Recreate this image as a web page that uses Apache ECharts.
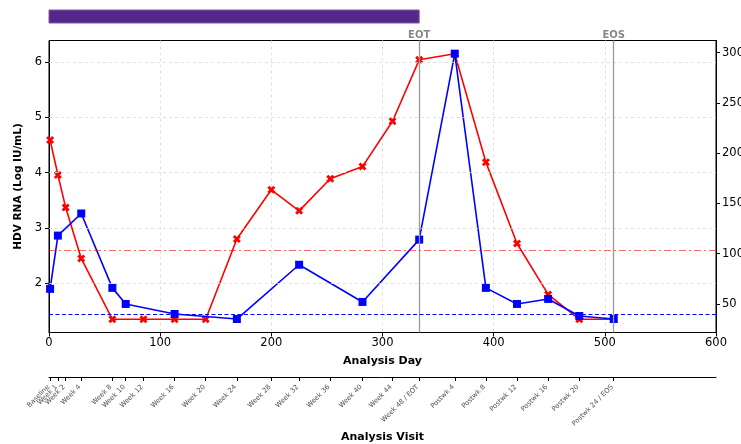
<!DOCTYPE html>
<html>
<head>
<meta charset="utf-8">
<script src="https://cdn.jsdelivr.net/npm/echarts@6/dist/echarts.min.js"></script>
<style>
  html, body { margin: 0; padding: 0; background: #fff; }
  #chart { width: 741px; height: 444px; }
</style>
</head>
<body>
<div id="chart"></div>
<script>
// Scheduled visits (analysis day of each visit) and their labels
const visitDays = [1, 8, 15, 29, 57, 69, 85, 113, 141, 169, 200, 225, 253, 282, 309, 333, 365, 393, 421, 449, 477, 508];
const visitLabels = ['Baseline', 'Week 1', 'Week 2', 'Week 4', 'Week 8', 'Week 10', 'Week 12', 'Week 16',
  'Week 20', 'Week 24', 'Week 28', 'Week 32', 'Week 36', 'Week 40', 'Week 44', 'Week 48 / EOT',
  'Postwk 4', 'Postwk 8', 'Postwk 12', 'Postwk 16', 'Postwk 20', 'Postwk 24 / EOS'];

// HDV RNA (log IU/mL), left axis
const hdvDays = [1, 8, 15, 29, 57, 85, 113, 141, 169, 200, 225, 253, 282, 309, 333, 365, 393, 421, 449, 477, 508];
const hdvLog = [4.59, 3.96, 3.37, 2.45, 1.35, 1.35, 1.35, 1.35, 2.80, 3.69, 3.31, 3.89, 4.11, 4.93, 6.04, 6.15, 4.19, 2.72, 1.80, 1.35, 1.35];

// ALT (U/L), right axis
const altDays = [1, 8, 29, 57, 69, 113, 169, 225, 282, 333, 365, 393, 421, 449, 477, 508];
const altValues = [65, 118, 140, 66, 50, 40, 35, 89, 52, 114, 299, 66, 50, 55, 38, 35];

// Reference levels and study milestones
const hdvThreshold = 2.59;
const altUln = 40;
const eotDay = 333;
const eosDay = 508;
const treatmentStart = 0;

// Axis tick values
const leftTicks = [2, 3, 4, 5, 6];
const rightTicks = [50, 100, 150, 200, 250, 300];

const FONT = 'DejaVu Sans';

// filled "X" marker
const xMarker = 'path://M0,1.5 L1.5,0 L3,1.5 L4.5,0 L6,1.5 L4.5,3 L6,4.5 L4.5,6 L3,4.5 L1.5,6 L0,4.5 L1.5,3 Z';
const gridDash = { color: '#d9d9d9', type: [3, 3], width: 0.8 };
const titleStyle = { fontFamily: FONT, fontWeight: 'bold', fontSize: 11, color: '#000' };

const chart = echarts.init(document.getElementById('chart'), null, { renderer: 'canvas' });

const option = {
  animation: false,
  backgroundColor: '#fff',
  grid: [
    { left: 49, top: 40.5, width: 667, height: 292, outerBoundsMode: 'none', containLabel: false,
      show: true, borderColor: '#000', borderWidth: 1, backgroundColor: 'transparent' },
    { left: 49, top: 376, width: 667, height: 1, outerBoundsMode: 'none', containLabel: false, show: false }
  ],
  xAxis: [
    {
      gridIndex: 0, type: 'value', min: 0, max: 600, interval: 100,
      name: 'Analysis Day', nameLocation: 'middle', nameGap: 23.5,
      nameTextStyle: titleStyle,
      axisLine: { show: true, onZero: false, lineStyle: { color: '#000', width: 1 } },
      axisTick: { show: true, length: 4, lineStyle: { color: '#000' } },
      axisLabel: { fontFamily: FONT, fontSize: 11.5, color: '#000', margin: 5 },
      splitLine: { show: true, lineStyle: gridDash }
    },
    {
      // visit axis: ticks at each scheduled visit, labels drawn by the label series below
      gridIndex: 1, type: 'value', min: 0, max: 600, position: 'bottom',
      name: 'Analysis Visit', nameLocation: 'middle', nameGap: 54.5,
      nameTextStyle: titleStyle,
      axisLine: { show: true, onZero: false, lineStyle: { color: '#000', width: 1 } },
      axisTick: { show: true, length: 4, customValues: visitDays, lineStyle: { color: '#000' } },
      axisLabel: { show: false },
      splitLine: { show: false }
    }
  ],
  yAxis: [
    {
      gridIndex: 0, type: 'value', min: 1.111, max: 6.389, position: 'left',
      name: 'HDV RNA (Log IU/mL)', nameLocation: 'middle', nameGap: 19.5, nameRotate: 90,
      nameTextStyle: Object.assign({}, titleStyle, { fontSize: 10.5 }),
      axisLine: { show: true, onZero: false, lineStyle: { color: '#000', width: 1 } },
      axisTick: { show: true, length: 4, customValues: leftTicks, lineStyle: { color: '#000' } },
      axisLabel: { customValues: leftTicks, fontFamily: FONT, fontSize: 11.5, color: '#000', margin: 7 },
      splitLine: { show: false }
    },
    {
      gridIndex: 0, type: 'value', min: 21.6, max: 312.1, position: 'right',
      axisLine: { show: true, onZero: false, lineStyle: { color: '#000', width: 1 } },
      axisTick: { show: true, length: 4, customValues: rightTicks, lineStyle: { color: '#000' } },
      axisLabel: { customValues: rightTicks, fontFamily: FONT, fontSize: 11.5, color: '#000', margin: 6 },
      splitLine: { show: false }
    },
    { gridIndex: 1, type: 'value', min: -1, max: 1, show: false }
  ],
  series: [
    {
      // horizontal grid lines at the left-axis ticks, plus EOT / EOS markers
      type: 'line', xAxisIndex: 0, yAxisIndex: 0, data: [], silent: true, z: 1,
      markLine: {
        silent: true, symbol: 'none', animation: false,
        data: leftTicks.map(v => ({ yAxis: v, lineStyle: gridDash, label: { show: false } }))
          .concat([
            { xAxis: eotDay, lineStyle: { color: '#9a9a9a', width: 1.3, type: 'solid' },
              label: { show: true, position: 'end', formatter: 'EOT', distance: 0.5, color: '#888', fontFamily: FONT, fontWeight: 'bold', fontSize: 10 } },
            { xAxis: eosDay, lineStyle: { color: '#9a9a9a', width: 1.3, type: 'solid' },
              label: { show: true, position: 'end', formatter: 'EOS', distance: 0.5, color: '#888', fontFamily: FONT, fontWeight: 'bold', fontSize: 10 } }
          ])
      }
    },
    {
      name: 'HDV RNA', type: 'line', xAxisIndex: 0, yAxisIndex: 0, z: 3,
      data: hdvDays.map((d, i) => [d, hdvLog[i]]),
      symbol: xMarker, symbolSize: 8,
      lineStyle: { color: '#ff0000', width: 1.6 },
      itemStyle: { color: '#ff0000' },
      markLine: {
        silent: true, symbol: 'none', animation: false,
        data: [{ yAxis: hdvThreshold }],
        lineStyle: { color: 'rgba(255,0,0,0.6)', width: 1.2, type: [7, 3, 2, 3] },
        label: { show: false }
      }
    },
    {
      name: 'ALT', type: 'line', xAxisIndex: 0, yAxisIndex: 1, z: 4,
      data: altDays.map((d, i) => [d, altValues[i]]),
      symbol: 'rect', symbolSize: 8,
      lineStyle: { color: '#0000ff', width: 1.6 },
      itemStyle: { color: '#0000ff' },
      markLine: {
        silent: true, symbol: 'none', animation: false,
        data: [{ yAxis: altUln }],
        lineStyle: { color: '#0000ff', width: 1, type: [4, 2.5] },
        label: { show: false }
      }
    },
    {
      // rotated visit labels under the visit axis
      type: 'scatter', xAxisIndex: 1, yAxisIndex: 2, silent: true, clip: false,
      symbol: 'circle', symbolSize: 1,
      itemStyle: { color: 'rgba(0,0,0,0)' },
      data: visitDays.map((d, i) => ({ value: [d, 0], name: visitLabels[i] })),
      label: {
        show: true, formatter: p => p.name, position: [-1, 10], rotate: 45,
        align: 'right', verticalAlign: 'middle',
        fontFamily: FONT, fontSize: 6.8, color: '#222'
      },
      labelLayout: { hideOverlap: false }
    }
  ]
};

chart.setOption(option);

// Treatment period bar above the plot, from day 0 to end of treatment
const bx0 = chart.convertToPixel({ xAxisIndex: 0 }, treatmentStart);
const bx1 = chart.convertToPixel({ xAxisIndex: 0 }, eotDay);
chart.setOption({
  graphic: [{
    type: 'rect', z: 10,
    shape: { x: bx0, y: 10, width: bx1 - bx0, height: 13 },
    style: { fill: '#55278a', stroke: '#7b5aa8', lineWidth: 1 }
  }]
});
</script>
</body>
</html>
